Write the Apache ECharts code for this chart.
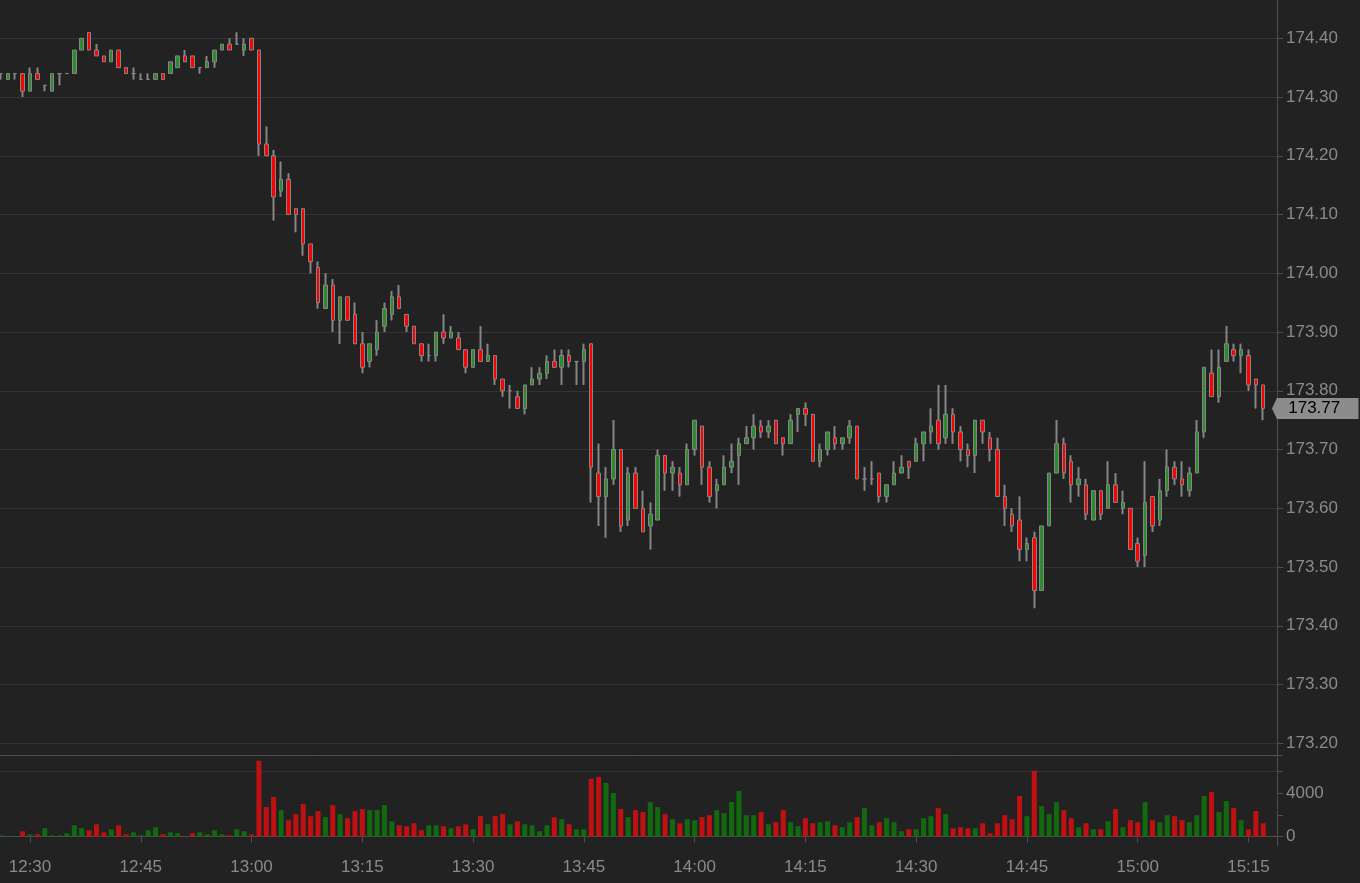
<!DOCTYPE html>
<html>
<head>
<meta charset="utf-8">
<title>K线</title>
<script src="https://cdn.jsdelivr.net/npm/echarts@6/dist/echarts.min.js"></script>
<style>
  html, body { margin: 0; padding: 0; background: #222222; }
  #main { width: 1360px; height: 883px; }
</style>
</head>
<body>
<div id="main"></div>
<script>
// 分钟时间
var times = [
  '12:26','12:27','12:28','12:29','12:30','12:31','12:32','12:33','12:34','12:35',
  '12:36','12:37','12:38','12:39','12:40','12:41','12:42','12:43','12:44','12:45',
  '12:46','12:47','12:48','12:49','12:50','12:51','12:52','12:53','12:54','12:55',
  '12:56','12:57','12:58','12:59',
  '13:00','13:01','13:02','13:03','13:04','13:05','13:06','13:07','13:08','13:09',
  '13:10','13:11','13:12','13:13','13:14','13:15','13:16','13:17','13:18','13:19',
  '13:20','13:21','13:22','13:23','13:24','13:25','13:26','13:27','13:28','13:29',
  '13:30','13:31','13:32','13:33','13:34','13:35','13:36','13:37','13:38','13:39',
  '13:40','13:41','13:42','13:43','13:44','13:45','13:46','13:47','13:48','13:49',
  '13:50','13:51','13:52','13:53','13:54','13:55','13:56','13:57','13:58','13:59',
  '14:00','14:01','14:02','14:03','14:04','14:05','14:06','14:07','14:08','14:09',
  '14:10','14:11','14:12','14:13','14:14','14:15','14:16','14:17','14:18','14:19',
  '14:20','14:21','14:22','14:23','14:24','14:25','14:26','14:27','14:28','14:29',
  '14:30','14:31','14:32','14:33','14:34','14:35','14:36','14:37','14:38','14:39',
  '14:40','14:41','14:42','14:43','14:44','14:45','14:46','14:47','14:48','14:49',
  '14:50','14:51','14:52','14:53','14:54','14:55','14:56','14:57','14:58','14:59',
  '15:00','15:01','15:02','15:03','15:04','15:05','15:06','15:07','15:08','15:09',
  '15:10','15:11','15:12','15:13','15:14','15:15','15:16','15:17'
];

// 开盘
var opens = [
  174.34,174.33,174.34,174.34,174.31,174.34,174.32,174.31,174.34,174.34,
  174.34,174.38,174.41,174.38,174.37,174.36,174.38,174.35,174.34,174.33,
  174.33,174.33,174.34,174.34,174.35,174.37,174.37,174.35,174.35,174.36,
  174.38,174.39,174.39,174.38,
  174.40,174.38,174.22,174.20,174.14,174.16,174.11,174.11,174.05,174.01,
  173.94,173.98,173.92,173.96,173.93,173.88,173.85,173.87,173.91,173.93,
  173.96,173.93,173.91,173.88,173.86,173.86,173.90,173.89,173.89,173.87,
  173.84,173.87,173.85,173.86,173.82,173.80,173.79,173.77,173.81,173.82,
  173.83,173.85,173.84,173.86,173.85,173.85,173.88,173.66,173.62,173.65,
  173.70,173.58,173.66,173.60,173.57,173.58,173.69,173.66,173.66,173.64,
  173.70,173.74,173.67,173.63,173.64,173.67,173.69,173.71,173.72,173.74,
  173.73,173.75,173.72,173.71,173.76,173.77,173.76,173.68,173.70,173.72,
  173.71,173.72,173.74,173.65,173.65,173.66,173.62,173.64,173.66,173.68,
  173.68,173.71,173.73,173.75,173.72,173.76,173.73,173.70,173.69,173.75,
  173.72,173.70,173.62,173.59,173.58,173.53,173.55,173.46,173.57,173.66,
  173.71,173.68,173.64,173.64,173.58,173.63,173.60,173.64,173.60,173.60,
  173.54,173.52,173.62,173.58,173.63,173.67,173.65,173.63,173.66,173.73,
  173.83,173.79,173.85,173.87,173.86,173.86,173.82,173.81
];

// 收盘
var closes = [
  174.34,174.34,174.34,174.31,174.34,174.33,174.32,174.34,174.34,174.34,
  174.38,174.40,174.38,174.37,174.36,174.38,174.35,174.34,174.34,174.33,
  174.33,174.34,174.33,174.36,174.37,174.36,174.35,174.35,174.36,174.38,
  174.39,174.38,174.39,174.39,
  174.38,174.22,174.20,174.13,174.16,174.10,174.10,174.05,174.02,173.95,
  173.98,173.92,173.96,173.92,173.88,173.84,173.88,173.90,173.94,173.96,
  173.94,173.91,173.88,173.86,173.86,173.90,173.89,173.90,173.87,173.84,
  173.87,173.85,173.86,173.82,173.80,173.80,173.77,173.81,173.82,173.83,
  173.85,173.84,173.86,173.85,173.85,173.87,173.67,173.62,173.65,173.70,
  173.57,173.66,173.60,173.56,173.59,173.69,173.66,173.67,173.64,173.70,
  173.75,173.67,173.62,173.64,173.67,173.68,173.71,173.72,173.74,173.73,
  173.74,173.71,173.71,173.75,173.77,173.76,173.68,173.70,173.73,173.71,
  173.72,173.74,173.65,173.65,173.65,173.62,173.64,173.66,173.67,173.67,
  173.71,173.73,173.74,173.71,173.76,173.73,173.70,173.69,173.75,173.73,
  173.70,173.62,173.60,173.57,173.53,173.54,173.46,173.57,173.66,173.71,
  173.66,173.64,173.65,173.59,173.63,173.59,173.64,173.61,173.61,173.53,
  173.51,173.61,173.57,173.63,173.67,173.65,173.64,173.66,173.73,173.84,
  173.79,173.84,173.88,173.86,173.87,173.81,173.81,173.77
];

// 最低
var lows = [
  174.33,174.33,174.33,174.30,174.31,174.33,174.31,174.31,174.32,174.34,
  174.34,174.38,174.38,174.37,174.36,174.36,174.35,174.34,174.33,174.33,
  174.33,174.33,174.33,174.34,174.35,174.36,174.35,174.34,174.35,174.35,
  174.38,174.38,174.39,174.37,
  174.38,174.20,174.20,174.09,174.13,174.10,174.07,174.03,174.00,173.94,
  173.94,173.90,173.88,173.92,173.88,173.83,173.84,173.86,173.90,173.92,
  173.94,173.90,173.88,173.85,173.85,173.85,173.88,173.89,173.87,173.83,
  173.84,173.85,173.85,173.81,173.79,173.77,173.77,173.76,173.81,173.81,
  173.82,173.84,173.81,173.84,173.81,173.81,173.61,173.57,173.55,173.64,
  173.56,173.57,173.60,173.56,173.53,173.58,173.63,173.63,173.62,173.64,
  173.69,173.64,173.61,173.60,173.64,173.66,173.64,173.71,173.70,173.72,
  173.72,173.71,173.69,173.71,173.73,173.74,173.68,173.67,173.69,173.70,
  173.70,173.71,173.65,173.63,173.64,173.61,173.61,173.64,173.66,173.65,
  173.68,173.68,173.71,173.70,173.71,173.71,173.68,173.67,173.66,173.71,
  173.68,173.62,173.57,173.56,173.51,173.51,173.43,173.46,173.57,173.66,
  173.65,173.61,173.62,173.58,173.58,173.58,173.60,173.61,173.59,173.53,
  173.50,173.50,173.56,173.57,173.62,173.64,173.62,173.62,173.66,173.72,
  173.79,173.78,173.85,173.85,173.83,173.80,173.77,173.75
];

// 最高
var highs = [
  174.34,174.34,174.34,174.34,174.35,174.35,174.32,174.34,174.34,174.34,
  174.38,174.40,174.41,174.39,174.37,174.38,174.38,174.35,174.35,174.34,
  174.34,174.34,174.34,174.36,174.37,174.38,174.37,174.35,174.37,174.38,
  174.39,174.40,174.41,174.40,
  174.40,174.38,174.25,174.21,174.19,174.17,174.11,174.11,174.05,174.02,
  174.00,173.99,173.96,173.96,173.95,173.90,173.88,173.92,173.95,173.97,
  173.98,173.93,173.91,173.88,173.88,173.90,173.93,173.91,173.90,173.87,
  173.87,173.91,173.88,173.86,173.82,173.81,173.80,173.81,173.84,173.84,
  173.86,173.87,173.87,173.87,173.85,173.88,173.88,173.71,173.67,173.75,
  173.70,173.67,173.67,173.63,173.61,173.70,173.69,173.68,173.67,173.71,
  173.75,173.74,173.68,173.65,173.69,173.71,173.72,173.74,173.76,173.75,
  173.75,173.75,173.72,173.76,173.77,173.78,173.76,173.71,173.73,173.74,
  173.72,173.75,173.74,173.67,173.68,173.66,173.64,173.68,173.69,173.68,
  173.72,173.73,173.77,173.81,173.81,173.77,173.74,173.71,173.75,173.75,
  173.73,173.72,173.64,173.60,173.62,173.55,173.56,173.57,173.66,173.75,
  173.72,173.69,173.67,173.65,173.63,173.63,173.68,173.66,173.63,173.60,
  173.55,173.68,173.62,173.65,173.70,173.68,173.68,173.67,173.75,173.84,
  173.87,173.87,173.91,173.88,173.88,173.87,173.82,173.81
];

// 成交量
var volumes = [
  124,30,30,496,217,217,775,124,124,310,
  1054,775,589,1147,403,682,1054,217,403,124,
  589,868,217,403,310,31,310,403,217,589,
  217,124,682,496,
  217,7008,2729,3659,2450,1519,2078,3008,1891,2357,
  1798,2915,2078,1705,2357,2543,2450,2450,2915,1426,
  1054,961,1240,589,1054,1054,961,775,961,1147,
  682,1891,1147,1891,2078,1147,1426,1147,1054,496,
  1054,1798,1612,1147,682,682,5333,5519,4961,4031,
  2543,1798,2450,2264,3194,2729,2078,1612,1240,1612,
  1519,1798,1984,2450,2171,3194,4217,1984,1984,2264,
  1147,1333,2450,1333,961,1705,1240,1333,1426,1054,
  868,1333,1798,2636,1054,1333,1705,1333,496,682,
  682,1705,1891,2636,2078,775,868,775,775,1240,
  310,1240,1984,1612,3752,1891,6078,2822,2078,3194,
  2450,1705,868,1240,682,682,1426,2543,868,1519,
  1333,3194,1519,1333,1984,1891,1519,1333,1984,3752,
  4124,2264,3287,2636,1519,682,2357,1240
];

// 价格刻度、成交量刻度
var priceMin = 173.2;
var priceMax = 174.5;
var priceStep = 0.1;
var volMax = 7530;
var volStep = 2000;
var volLabels = [0, 4000];

var chart = echarts.init(document.getElementById('main'));

var axisTimes = times.concat(['', '']);  // 右侧留白
var kData = [];
var volData = [];
for (var i = 0; i < times.length; i++) {
  kData.push([opens[i], closes[i], lows[i], highs[i]]);
  volData.push({
    value: volumes[i],
    itemStyle: { color: closes[i] >= opens[i] ? '#12690f' : '#bf1111' }
  });
}
var last = times.length - 1;

// 只显示整刻钟
function isQuarter(index, value) {
  return /:(00|15|30|45)$/.test(value);
}

var lineColor = '#4e4e4e';
var labelColor = '#8a8a8a';
var gridColor = '#333333';
var wickColor = '#858585';

var option = {
  backgroundColor: '#222222',
  animation: false,
  textStyle: { fontFamily: '"Liberation Sans", Arial, sans-serif' },
  grid: [
    { left: 0.47, right: 82, top: -20.45, bottom: 139.7, outerBoundsMode: 'none', containLabel: false },
    { left: 0.47, right: 82, top: 755, bottom: 46.3, outerBoundsMode: 'none', containLabel: false }
  ],
  xAxis: [
    {
      type: 'category', gridIndex: 0, data: axisTimes, boundaryGap: false,
      axisLine: { show: false }, axisTick: { show: false },
      axisLabel: { show: false }, splitLine: { show: false }
    },
    {
      type: 'category', gridIndex: 1, data: axisTimes, boundaryGap: false,
      position: 'bottom', offset: 9,
      axisLine: { lineStyle: { color: lineColor } },
      axisTick: { interval: isQuarter, length: 6, lineStyle: { color: lineColor } },
      axisLabel: { interval: isQuarter, color: labelColor, fontSize: 17, margin: 13 },
      splitLine: { show: false }
    },
    {
      type: 'category', gridIndex: 1, data: axisTimes, boundaryGap: false,
      position: 'top',
      axisLine: { lineStyle: { color: lineColor } },
      axisTick: { show: false }, axisLabel: { show: false }, splitLine: { show: false }
    }
  ],
  yAxis: [
    {
      type: 'value', gridIndex: 0, position: 'right',
      min: priceMin, max: priceMax, interval: priceStep,
      axisLine: { show: false },
      axisTick: { show: true, length: 5, lineStyle: { color: lineColor } },
      axisLabel: {
        color: labelColor, fontSize: 17, margin: 8,
        formatter: function (v) { return v.toFixed(2); }
      },
      splitLine: { lineStyle: { color: gridColor } }
    },
    {
      type: 'value', gridIndex: 1, position: 'right',
      min: 0, max: volMax, interval: volStep,
      axisLine: { show: false },
      axisTick: { show: true, length: 5, lineStyle: { color: lineColor } },
      axisLabel: {
        color: labelColor, fontSize: 17, margin: 8,
        formatter: function (v) { return volLabels.indexOf(v) > -1 ? String(v) : ''; }
      },
      splitLine: {
        lineStyle: { color: [gridColor, 'rgba(0,0,0,0)', 'rgba(0,0,0,0)', gridColor, 'rgba(0,0,0,0)'] }
      }
    }
  ],
  graphic: [{
    type: 'line', z: 1,
    shape: { x1: 1277.5, y1: 0, x2: 1277.5, y2: 846 },
    style: { stroke: lineColor, lineWidth: 1 }
  }],
  series: [
    // 影线（加粗）
    {
      type: 'candlestick', xAxisIndex: 0, yAxisIndex: 0,
      data: kData, barWidth: 1, clip: false, z: 2,
      itemStyle: {
        color: wickColor, color0: wickColor,
        borderColor: wickColor, borderColor0: wickColor, borderColorDoji: wickColor,
        borderWidth: 2
      }
    },
    // 实体
    {
      type: 'candlestick', xAxisIndex: 0, yAxisIndex: 0,
      data: kData, barWidth: 4, clip: false, z: 3,
      itemStyle: {
        color: '#2d8a2d', color0: '#ff0000',
        borderColor: wickColor, borderColor0: wickColor, borderColorDoji: wickColor,
        borderWidth: 1
      },
      // 最新价标签
      markPoint: {
        symbol: 'path://M0,10.5L5,0L86.6,0L86.6,21L5,21Z',
        symbolSize: [86.6, 21],
        symbolOffset: [52, 0],
        itemStyle: { color: '#8c8c8c', borderWidth: 0 },
        label: {
          show: true, position: 'inside', color: '#000', fontSize: 17, offset: [-1, 0],
          formatter: function (p) { return p.value.toFixed(2); }
        },
        data: [{ coord: [times[last], closes[last]], value: closes[last] }]
      }
    },
    {
      type: 'bar', xAxisIndex: 1, yAxisIndex: 1,
      data: volData, barWidth: 5
    }
  ]
};

chart.setOption(option);
</script>
</body>
</html>
